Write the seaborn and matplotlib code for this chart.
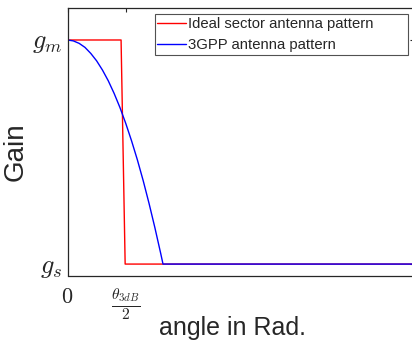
import matplotlib
matplotlib.use("Agg")
import matplotlib.pyplot as plt
import seaborn as sns
import pandas as pd

# angle in units of theta_3dB/2, gain normalised (g_s = 0, g_m = 1)
ideal_angle = [0.0, 0.92, 0.99, 5.95]
ideal_gain = [1.0, 1.0, 0.0, 0.0]

gpp_angle = [0.0, 0.1, 0.2, 0.3, 0.4, 0.5, 0.6, 0.7, 0.8, 0.9, 1.0, 1.1, 1.2,
             1.3, 1.4, 1.5, 1.6, 1.64, 5.95]
gpp_gain = [1.0, 0.996, 0.985, 0.967, 0.940, 0.907, 0.866, 0.818, 0.762,
            0.699, 0.628, 0.550, 0.465, 0.372, 0.271, 0.163, 0.048, 0.0, 0.0]

xtick_pos = [0, 1]
xtick_labels = [r"$0$", r"$\frac{\theta_{3dB}}{2}$"]
ytick_pos = [0, 1]
ytick_labels = [r"$g_s$", r"$g_m$"]

sns.set_style("white")
plt.rcParams["font.family"] = ["Liberation Sans", "DejaVu Sans"]
plt.rcParams["mathtext.fontset"] = "cm"

fig = plt.figure(figsize=(4.12, 3.43), dpi=100)
ax = fig.add_axes([67.5 / 412, 1 - 275.5 / 343, (414 - 67.5) / 412, (275.5 - 7.5) / 343])

df1 = pd.DataFrame({"angle": ideal_angle, "gain": ideal_gain})
df2 = pd.DataFrame({"angle": gpp_angle, "gain": gpp_gain})
sns.lineplot(data=df1, x="angle", y="gain", sort=False, estimator=None,
             color="#ff0000", linewidth=1.0, ax=ax, label="Ideal sector antenna pattern")
sns.lineplot(data=df2, x="angle", y="gain", sort=False, estimator=None,
             color="#0000ff", linewidth=1.0, ax=ax, label="3GPP antenna pattern")

ax.set_xlim(0, 5.95)
ax.set_ylim(-0.051, 1.145)
ax.set_xticks(xtick_pos)
ax.set_xticklabels(xtick_labels)
ax.set_yticks(ytick_pos)
ax.set_yticklabels(ytick_labels)
ax.tick_params(axis="both", direction="in", length=3, width=0.8, color="#262626",
               top=True, right=True)
ax.tick_params(axis="y", labelsize=19, pad=4)
ax.tick_params(axis="x", labelsize=16, pad=8)

for s in ax.spines.values():
    s.set_color("#262626")
    s.set_linewidth(0.9)

ax.set_xlabel("angle in Rad.", fontsize=18, color="#262626")
ax.xaxis.set_label_coords((232.5 - 67.5) / 346.5, (275.5 - 316.5) / 268)
ax.set_ylabel("Gain", fontsize=20, color="#262626")
ax.yaxis.set_label_coords((29 - 67.5) / 346.5, (275.5 - 152) / 268)

x0 = (154.5 - 67.5) / 346.5
w = (408 - 154.5) / 346.5
ytop = 1 - (14 - 7.5) / 268
leg = ax.legend(loc="upper left", bbox_to_anchor=(x0, ytop, w, 0), mode="expand",
                borderaxespad=0, fontsize=10.7, frameon=True, fancybox=False,
                edgecolor="#262626", handlelength=1.95, handletextpad=0.1,
                borderpad=0.2, labelspacing=0.47)
leg.get_frame().set_linewidth(0.8)

fig.savefig("out.png", dpi=100)
